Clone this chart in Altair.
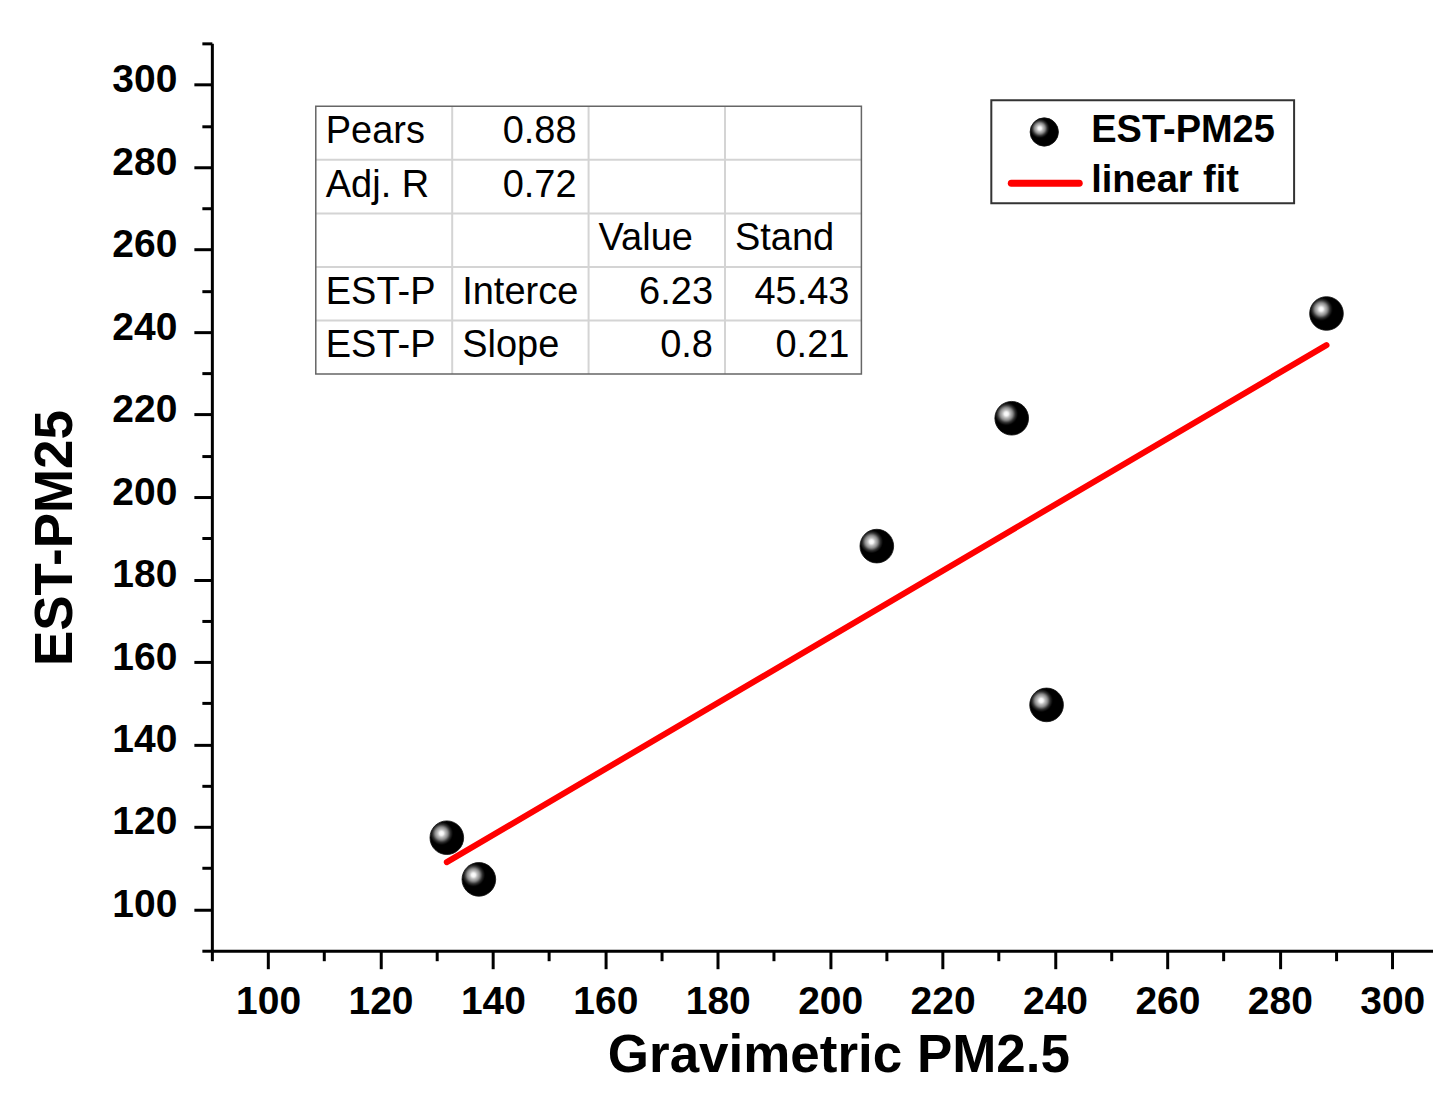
import altair as alt
import pandas as pd

# ---------------- data ----------------
gravimetric = [131.8, 137.5, 208.3, 232.3, 238.5, 288.3]
est_pm25 = [117.4, 107.3, 188.1, 219.1, 149.6, 244.5]

table_rows = [
    ["Pears", "0.88", "", ""],
    ["Adj. R", "0.72", "", ""],
    ["", "", "Value", "Stand"],
    ["EST-P", "Interce", "6.23", "45.43"],
    ["EST-P", "Slope", "0.8", "0.21"],
]
legend_labels = ["EST-PM25", "linear fit"]
x_title = "Gravimetric PM2.5"
y_title = "EST-PM25"

# ---------------- layout / style ----------------
W, H = 1222, 908
XDOM = [90, 307.25]
YDOM = [90, 310]
FONT = "Liberation Sans"

T_LEFT, T_TOP, CW, RH = 104, 63, 136.5, 53.6
L_LEFT, L_TOP, L_RIGHT, L_BOTTOM = 780, 57, 1083, 160

sphere = alt.RadialGradient(
    gradient="radial",
    x1=0.34, y1=0.37, r1=0,
    x2=0.34, y2=0.37, r2=0.34,
    stops=[
        alt.GradientStop(offset=0, color="#ffffff"),
        alt.GradientStop(offset=0.18, color="#f4f4f4"),
        alt.GradientStop(offset=0.32, color="#c4c4c4"),
        alt.GradientStop(offset=0.55, color="#8c8c8c"),
        alt.GradientStop(offset=0.78, color="#303030"),
        alt.GradientStop(offset=1, color="#000000"),
    ],
)

df = pd.DataFrame({"g": gravimetric, "e": est_pm25})

major = {"condition": {"test": "datum.value % 20 === 0", "value": 18}, "value": 10}
lab_expr = "(datum.value % 20 === 0 && datum.value >= 100 && datum.value <= 300) ? datum.label : ''"

x_enc = alt.X(
    "g:Q",
    scale=alt.Scale(domain=XDOM, nice=False, zero=False),
    axis=alt.Axis(
        values=list(range(90, 311, 10)),
        labelExpr=lab_expr,
        tickSize=major,
        labelPadding=14,
        title=x_title,
        titleX=627,
        titleY=121,
        titleBaseline="alphabetic",
        titleAlign="center",
    ),
)
y_enc = alt.Y(
    "e:Q",
    scale=alt.Scale(domain=YDOM, nice=False, zero=False),
    axis=alt.Axis(
        values=list(range(90, 311, 10)),
        labelExpr=lab_expr,
        tickSize=major,
        labelPadding=17,
        labelOffset=-5,
        title=y_title,
        titleAngle=270,
        titleX=-140,
        titleY=494.5,
        titleBaseline="alphabetic",
        titleAlign="center",
    ),
)

base = alt.Chart(df).encode(x=x_enc, y=y_enc)
points = base.mark_circle(size=1134, opacity=1, fill=sphere, stroke="#111111", strokeWidth=0.8)
fit = base.transform_regression("g", "e", method="linear").mark_line(
    color="#ff0000", strokeWidth=6, strokeCap="round"
)

# ---------------- inset table ----------------
cells = []
for r, row in enumerate(table_rows):
    for c, txt in enumerate(row):
        if not txt:
            continue
        try:
            float(txt)
            is_num = True
        except ValueError:
            is_num = False
        if is_num:
            px = T_LEFT + (c + 1) * CW - 12
        else:
            px = T_LEFT + c * CW + 10
        py = T_TOP + r * RH + RH / 2 + 10
        cells.append({"t": txt, "px": px, "py": py, "num": is_num})
cells = pd.DataFrame(cells)

def px_x(f):
    return alt.X(f, scale=None, axis=None)

def px_y(f):
    return alt.Y(f, scale=None, axis=None)

txt_left = alt.Chart(cells[~cells["num"]]).mark_text(
    align="left", baseline="alphabetic", font=FONT, fontSize=38, color="#000000"
).encode(x=px_x("px:Q"), y=px_y("py:Q"), text="t:N")
txt_right = alt.Chart(cells[cells["num"]]).mark_text(
    align="right", baseline="alphabetic", font=FONT, fontSize=38, color="#000000"
).encode(x=px_x("px:Q"), y=px_y("py:Q"), text="t:N")

ncol = len(table_rows[0])
nrow = len(table_rows)
vlines = pd.DataFrame(
    {"x": [T_LEFT + c * CW for c in range(1, ncol)],
     "y1": [T_TOP] * (ncol - 1),
     "y2": [T_TOP + nrow * RH] * (ncol - 1)}
)
hlines = pd.DataFrame(
    {"y": [T_TOP + r * RH for r in range(1, nrow)],
     "x1": [T_LEFT] * (nrow - 1),
     "x2": [T_LEFT + ncol * CW] * (nrow - 1)}
)
grid_v = alt.Chart(vlines).mark_rule(color="#d4d4d4", strokeWidth=2).encode(
    x=px_x("x:Q"), y=px_y("y1:Q"), y2="y2:Q"
)
grid_h = alt.Chart(hlines).mark_rule(color="#d4d4d4", strokeWidth=2).encode(
    y=px_y("y:Q"), x=px_x("x1:Q"), x2="x2:Q"
)
frame = pd.DataFrame(
    {"x1": [T_LEFT], "x2": [T_LEFT + ncol * CW], "y1": [T_TOP], "y2": [T_TOP + nrow * RH]}
)
table_box = alt.Chart(frame).mark_rect(fill=None, stroke="#666666", strokeWidth=1.5).encode(
    x=px_x("x1:Q"), x2="x2:Q", y=px_y("y1:Q"), y2="y2:Q"
)

# ---------------- legend ----------------
lbox = pd.DataFrame({"x1": [L_LEFT], "x2": [L_RIGHT], "y1": [L_TOP], "y2": [L_BOTTOM]})
legend_box = alt.Chart(lbox).mark_rect(fill="white", stroke="#333333", strokeWidth=2).encode(
    x=px_x("x1:Q"), x2="x2:Q", y=px_y("y1:Q"), y2="y2:Q"
)
lsym = pd.DataFrame({"x": [L_LEFT + 53], "y": [L_TOP + 31.7]})
legend_sym = alt.Chart(lsym).mark_circle(
    size=804, opacity=1, fill=sphere, stroke="#111111", strokeWidth=0.8
).encode(x=px_x("x:Q"), y=px_y("y:Q"))
lline = pd.DataFrame({"x1": [L_LEFT + 20], "x2": [L_LEFT + 88], "y": [L_TOP + 83]})
legend_line = alt.Chart(lline).mark_rule(color="#ff0000", strokeWidth=7, strokeCap="round").encode(
    x=px_x("x1:Q"), x2="x2:Q", y=px_y("y:Q")
)
ltxt = pd.DataFrame(
    {"t": legend_labels, "x": [L_LEFT + 100] * 2, "y": [L_TOP + 41.7, L_TOP + 91.7]}
)
legend_txt = alt.Chart(ltxt).mark_text(
    align="left", baseline="alphabetic", font=FONT, fontSize=38, fontWeight="bold", color="#000000"
).encode(x=px_x("x:Q"), y=px_y("y:Q"), text="t:N")

chart = alt.layer(
    points, fit,
    grid_v, grid_h, table_box, txt_left, txt_right,
    legend_box, legend_sym, legend_line, legend_txt,
).properties(
    width=W,
    height=H,
    autosize=alt.AutoSizeParams(type="none"),
    padding={"left": 204, "top": 35, "right": 0, "bottom": 132},
    background="white",
).configure_view(
    stroke=None
).configure_axis(
    grid=False,
    domainColor="#000000",
    domainWidth=3,
    tickColor="#000000",
    tickWidth=3,
    labelFont=FONT,
    labelFontSize=39,
    labelFontWeight="bold",
    labelColor="#000000",
    titleFont=FONT,
    titleFontSize=53,
    titleFontWeight="bold",
    titleColor="#000000",
    labelFlush=False,
    labelOverlap=False,
)

chart.save("out.html", embed_options={"renderer": "svg", "actions": False})
